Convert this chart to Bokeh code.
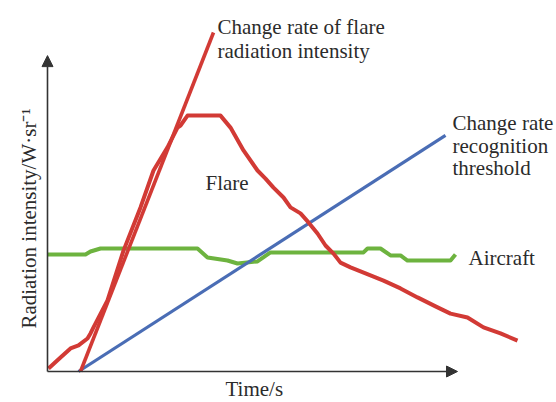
from bokeh.plotting import figure
from bokeh.models import Range1d, Arrow, NormalHead
from bokeh.core.properties import value
from bokeh.embed import file_html
from bokeh.resources import INLINE
import math

# Flare radiation intensity (time, intensity)
flare_t = [0.25, 3.25, 5.75, 7.75, 10.0, 10.75, 11.5, 15.0, 19.0, 23.25, 26.5, 30.0, 32.5, 33.25, 35.0,
           43.25, 45.75, 49.0, 52.5, 54.5, 56.5, 59.0, 60.75, 63.25, 65.25, 67.5, 69.5, 71.5, 73.25, 75.75,
           79.5, 84.0, 88.25, 92.5, 97.0, 100.75, 105.0, 109.0, 113.25, 117.5]
flare_i = [1.0, 4.7, 7.7, 8.7, 11.0, 12.7, 14.7, 23.7, 40.3, 54.7, 67.0, 74.7, 81.3, 82.0, 85.3,
           85.3, 81.3, 73.7, 67.0, 64.3, 61.3, 58.0, 54.7, 52.7, 49.7, 46.0, 42.0, 39.3, 36.3, 34.7,
           32.7, 30.3, 27.7, 24.7, 21.7, 19.3, 18.0, 14.7, 12.7, 10.3]

# Aircraft radiation intensity
air_t = [0.0, 9.5, 10.75, 13.25, 37.5, 40.0, 45.0, 47.5, 52.5, 55.75, 79.0, 80.0, 83.25, 85.75, 88.25, 90.0, 100.75, 102.0]
air_i = [39.0, 39.0, 40.0, 41.0, 41.0, 38.0, 37.0, 36.0, 36.7, 39.7, 39.7, 41.0, 41.0, 38.7, 38.7, 37.0, 37.0, 39.0]

# Change rate of flare radiation intensity (straight line)
rate_t = [8.25, 41.5]
rate_i = [0.0, 113.0]

# Change rate recognition threshold (straight line)
thr_t = [7.75, 99.5]
thr_i = [0.0, 78.7]

# Axis extents
x_axis_end = 102.5
y_axis_end = 105.3

FONT = value("Liberation Serif")
TXT = "#2b2b2b"

p = figure(width=556, height=402, output_backend="svg", toolbar_location=None,
           x_range=Range1d(-11.75, 127.25), y_range=Range1d(-10.33, 123.67),
           min_border=0, min_border_left=0, min_border_right=0, min_border_top=0, min_border_bottom=0)
p.axis.visible = False
p.grid.visible = False
p.outline_line_color = None
p.background_fill_color = "white"
p.border_fill_color = "white"

# axes with arrowheads
p.add_layout(Arrow(end=NormalHead(size=11, fill_color="#333333", line_color="#333333"),
                   x_start=0, y_start=0, x_end=0, y_end=y_axis_end,
                   line_color="#333333", line_width=1.6))
p.add_layout(Arrow(end=NormalHead(size=11, fill_color="#333333", line_color="#333333"),
                   x_start=0, y_start=0, x_end=x_axis_end, y_end=0,
                   line_color="#333333", line_width=1.6))

p.line(air_t, air_i, line_color="#6db33f", line_width=4, line_join="round")
p.line(thr_t, thr_i, line_color="#4a6db5", line_width=3.2)
p.line(flare_t, flare_i, line_color="#d23a35", line_width=4, line_join="round")
p.line(rate_t, rate_i, line_color="#d23a35", line_width=3.6)

labels_x = [42.5, 42.5, 101.25, 101.25, 101.25, 39.5, 105.25, 44.5]
labels_y = [114.7, 106.7, 83.0, 75.3, 67.7, 62.7, 37.7, -5.67]
labels = ["Change rate of flare", "radiation intensity", "Change rate", "recognition", "threshold",
          "Flare", "Aircraft", "Time/s"]
p.text(labels_x, labels_y, text=labels, text_font=FONT, text_font_size="21px",
       text_color=TXT, text_align="left", text_baseline="alphabetic")

p.text([-4.75], [14.3], text=["Radiation intensity/W·sr⁻¹"], angle=math.pi / 2,
       text_font=FONT, text_font_size="21px", text_color=TXT,
       text_align="left", text_baseline="alphabetic")

open("out.html", "w").write(file_html(p, INLINE))
